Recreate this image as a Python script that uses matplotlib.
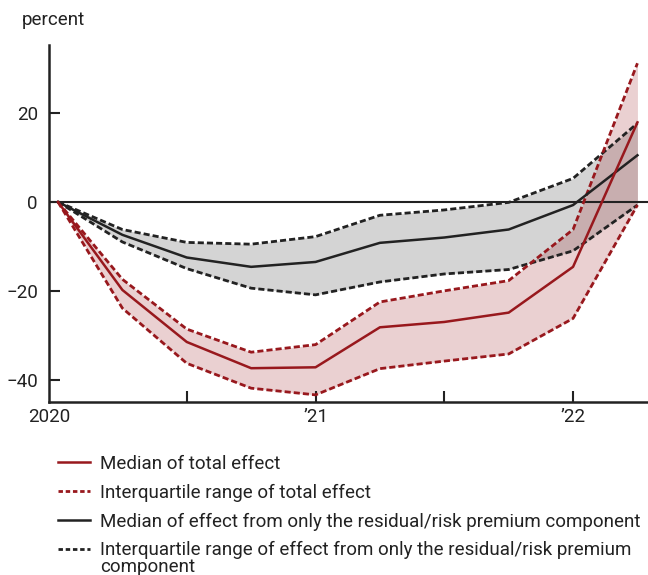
import matplotlib.pyplot as plt
import matplotlib.transforms as mtransforms
import numpy as np

plt.rcParams['font.family'] = ['Roboto', 'DejaVu Sans']

# quarterly dates, 2020Q1 .. 2022Q2
dates = [2020.0, 2020.25, 2020.5, 2020.75, 2021.0, 2021.25, 2021.5, 2021.75, 2022.0, 2022.25]

total_med = [0, -19.8, -31.5, -37.4, -37.2, -28.2, -27.0, -24.9, -14.6, 17.9]
total_hi = [0, -17.4, -28.6, -33.8, -32.1, -22.5, -20.0, -17.7, -6.2, 31.2]
total_lo = [0, -23.9, -36.3, -41.9, -43.4, -37.5, -35.8, -34.2, -26.2, -0.7]

resid_med = [0, -7.4, -12.5, -14.6, -13.5, -9.2, -8.0, -6.2, -0.7, 10.5]
resid_hi = [0, -6.2, -9.1, -9.5, -7.8, -3.0, -1.8, -0.1, 5.3, 17.7]
resid_lo = [0, -9.0, -15.0, -19.4, -20.9, -18.0, -16.2, -15.2, -11.0, -0.7]

xticks = [2020, 2020.5, 2021, 2021.5, 2022]
xlabels = ['2020', '', '\u201921', '', '\u201922']
yticks = [-40, -20, 0, 20]

red = '#98181d'
blk = '#222222'

fig = plt.figure(figsize=(6.48, 5.75), dpi=100)
ax = fig.add_axes([0.0756, 0.3009, 0.9244, 0.6208])

ax.fill_between(dates, resid_lo, resid_hi, color='#9a9a9a', alpha=0.42, lw=0)
ax.fill_between(dates, total_lo, total_hi, color=red, alpha=0.2, lw=0)
ax.axhline(0, color=blk, lw=1.5)

dash = (2.2, 1.1)
ax.plot(dates, resid_hi, color=blk, lw=2, dashes=dash)
ax.plot(dates, resid_lo, color=blk, lw=2, dashes=dash)
ax.plot(dates, total_hi, color=red, lw=2, dashes=dash)
ax.plot(dates, total_lo, color=red, lw=2, dashes=dash)
ax.plot(dates, resid_med, color=blk, lw=1.8)
ax.plot(dates, total_med, color=red, lw=1.8)

ax.set_xlim(2019.965, 2022.291)
ax.set_ylim(-45, 35.3)
ax.set_xticks(xticks)
ax.set_xticklabels(xlabels)
ax.set_yticks(yticks)
ax.set_yticklabels(['\u221240', '\u221220', '0', '20'])
ax.tick_params(direction='in', length=8, width=1.5, colors=blk, labelsize=13.5, pad=4)
ax.tick_params(axis='y', pad=8)
ax.xaxis.get_major_ticks()[0].tick1line.set_visible(False)
# first year label sits a little left of its tick
lab0 = ax.get_xticklabels()[0]
lab0.set_transform(lab0.get_transform() + mtransforms.ScaledTranslation(-9 / 100, 0, fig.dpi_scale_trans))
for s in ['top', 'right']:
    ax.spines[s].set_visible(False)
for s in ['left', 'bottom']:
    ax.spines[s].set_linewidth(1.8)
    ax.spines[s].set_color(blk)
    ax.spines[s].set_zorder(5)

fig.text(22 / 648, 1 - 20 / 575, 'percent', fontsize=13.5, color=blk, va='center')

handles = [
    plt.Line2D([], [], color=red, lw=1.8),
    plt.Line2D([], [], color=red, lw=2, dashes=(1.6, 1.0)),
    plt.Line2D([], [], color=blk, lw=1.8),
    plt.Line2D([], [], color=blk, lw=2, dashes=(1.6, 1.0)),
]
labels = [
    'Median of total effect',
    'Interquartile range of total effect',
    'Median of effect from only the residual/risk premium component',
    'Interquartile range of effect from only the residual/risk premium',
]
fig.legend(handles, labels, loc='upper left', bbox_to_anchor=(58 / 648, 1 - 455 / 575),
           frameon=False, fontsize=13.5, handlelength=1.7, handletextpad=0.53,
           labelspacing=0.57, borderaxespad=0, borderpad=0, labelcolor=blk)
fig.text(100 / 648, 1 - 567 / 575, 'component', fontsize=13.5, color=blk, va='center')

fig.savefig('out.png', dpi=100)
